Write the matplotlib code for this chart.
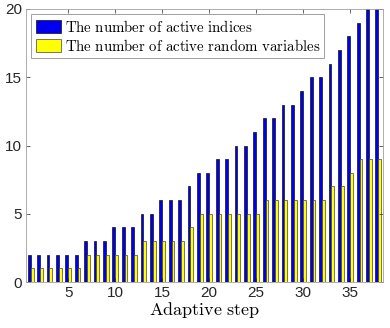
import numpy as np
import matplotlib
matplotlib.use('Agg')
import matplotlib.pyplot as plt

plt.rcParams['font.family'] = ['Liberation Sans', 'DejaVu Sans']
plt.rcParams['mathtext.fontset'] = 'cm'

# data
steps = np.arange(1, 39)
active_indices = [2, 2, 2, 2, 2, 2, 3, 3, 3, 4, 4, 4, 5, 5, 6, 6, 6, 7, 8, 8,
                  9, 9, 10, 10, 11, 12, 12, 13, 13, 14, 15, 15, 16, 17, 18, 19, 21, 21]
active_vars = [1, 1, 1, 1, 1, 1, 2, 2, 2, 2, 2, 2, 3, 3, 3, 3, 3, 4, 5, 5,
               5, 5, 5, 5, 5, 6, 6, 6, 6, 6, 6, 6, 7, 7, 8, 9, 9, 9]

fig = plt.figure(figsize=(3.9, 3.28), dpi=100)
ax = fig.add_axes([26/390, 1 - 282/328, (383 - 26)/390, (282 - 9)/328])

w = 0.3
ax.bar(steps - w/2, active_indices, width=w, color='#0000f0', edgecolor='#101010',
       linewidth=0.5, label=r'$\mathrm{The\ number\ of\ active\ indices}$')
ax.bar(steps + w/2, active_vars, width=w, color='#ffff00', edgecolor='#404040',
       linewidth=0.5, label=r'$\mathrm{The\ number\ of\ active\ random\ variables}$')

ax.set_xlim(0.5, 38.5)
ax.set_ylim(0, 20)
ax.set_xticks([5, 10, 15, 20, 25, 30, 35])
ax.set_yticks([0, 5, 10, 15, 20])
ax.tick_params(direction='in', top=True, right=True, length=3, width=0.5,
               labelsize=11, colors='#262626', pad=3)
for s in ax.spines.values():
    s.set_color('#a0a0a0')
    s.set_linewidth(0.6)
ax.set_xlabel(r'$\mathrm{Adaptive\ step}$', fontsize=13, labelpad=0)

leg = ax.legend(loc='upper left', fontsize=10.7, fancybox=False, framealpha=1,
                edgecolor='#909090', borderpad=0.3, handlelength=1.7,
                handleheight=1.0, handletextpad=0.25, labelspacing=0.2,
                borderaxespad=0.35)
leg.get_frame().set_linewidth(0.6)

fig.savefig('out.png', dpi=100)
